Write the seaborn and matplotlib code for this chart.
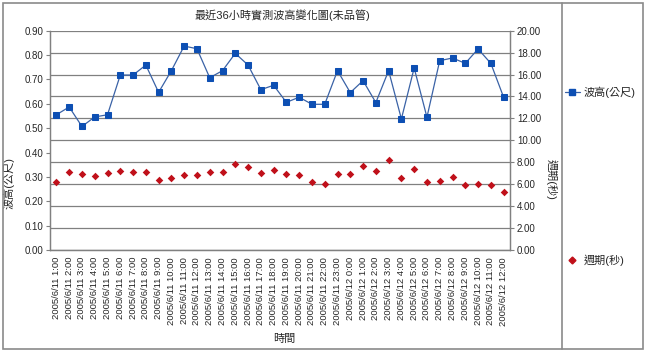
import numpy as np
import pandas as pd
import matplotlib
matplotlib.use("Agg")
import matplotlib.pyplot as plt
from matplotlib.lines import Line2D
from matplotlib.patches import Rectangle
import seaborn as sns

sns.set_style("white")
plt.rcParams['font.family'] = ['Liberation Sans', 'Noto Sans CJK TC', 'DejaVu Sans']

times = [f"2005/6/11 {h}:00" for h in range(1, 24)] + [f"2005/6/12 {h}:00" for h in range(0, 13)]
wave_height = [0.555, 0.587, 0.507, 0.546, 0.555, 0.718, 0.718, 0.759, 0.647, 0.736,
               0.837, 0.826, 0.707, 0.736, 0.807, 0.759, 0.658, 0.676, 0.606, 0.627,
               0.598, 0.598, 0.736, 0.646, 0.695, 0.605, 0.736, 0.538, 0.747, 0.545,
               0.777, 0.788, 0.766, 0.825, 0.766, 0.627]
period = [6.23, 7.14, 6.90, 6.75, 7.05, 7.23, 7.08, 7.08, 6.38, 6.56,
          6.81, 6.81, 7.14, 7.14, 7.81, 7.57, 7.05, 7.29, 6.90, 6.81,
          6.23, 6.05, 6.90, 6.90, 7.63, 7.23, 8.20, 6.56, 7.38, 6.23,
          6.29, 6.63, 5.90, 6.05, 5.90, 5.29]
left_ticks = [0.0, 0.1, 0.2, 0.3, 0.4, 0.5, 0.6, 0.7, 0.8, 0.9]
right_ticks = [0, 2, 4, 6, 8, 10, 12, 14, 16, 18, 20]

title = "最近36小時實測波高變化圖(未品管)"
label_h = "波高(公尺)"
label_p = "週期(秒)"
label_x = "時間"

df = pd.DataFrame({"time": times, "height": wave_height, "period": period})

W, H = 645, 352
fig = plt.figure(figsize=(W / 100, H / 100), dpi=100)
ax = fig.add_axes([50 / W, 1 - 250 / H, 460 / W, 219.3 / H])
ax2 = ax.twinx()

grid_c = "#808080"
blue_line = "#3a62a6"
blue_mark = "#0d4fb3"
red = "#c0101a"

sns.lineplot(data=df, x="time", y="height", ax=ax, sort=False, color=blue_line,
             linewidth=0.9, marker="s", markersize=4, markerfacecolor=blue_mark,
             markeredgecolor=blue_mark, zorder=3)
sns.scatterplot(data=df, x="time", y="period", ax=ax2, marker="D", s=15,
                color=red, edgecolor=red, linewidth=0, zorder=3)

n = len(times)
ax.set_xlim(-0.5, n - 0.5)
ax.set_ylim(0, 0.9)
ax2.set_ylim(0, 20)
ax.set_yticks(left_ticks)
ax.set_yticklabels([f"{v:.2f}" for v in left_ticks])
ax2.set_yticks(right_ticks)
ax2.set_yticklabels([f"{v:.2f}" for v in right_ticks])
ax2.grid(True, axis="y", color=grid_c, linewidth=0.9)
ax.grid(False)
ax2.set_axisbelow(True)
ax.set_zorder(ax2.get_zorder() + 1)
ax.patch.set_visible(False)

ax.set_xticks(range(n))
ax.set_xticklabels(times, rotation=90, fontsize=6.8)
ax.tick_params(axis="x", length=0, pad=5)
ax.set_xticks(np.arange(-0.5, n, 1.0), minor=True)
ax.tick_params(axis="x", which="minor", length=3, color=grid_c, direction="out")
ax.tick_params(axis="y", labelsize=7, length=3, color=grid_c, pad=2, direction="out", left=True)
ax2.tick_params(axis="y", labelsize=7, length=3, color=grid_c, pad=2, direction="out", right=True)

for a in (ax, ax2):
    for s in a.spines.values():
        s.set_color(grid_c)
        s.set_linewidth(0.9)
ax.spines["top"].set_visible(False)
ax2.spines["top"].set_visible(False)

ax.set_xlabel(label_x, fontsize=8)
ax.xaxis.set_label_coords(0.51, -0.385)
ax.set_ylabel(label_h, fontsize=8)
ax.yaxis.set_label_coords(-0.076, 0.305)
ax2.set_ylabel(label_p, fontsize=8, rotation=270, va="center")
ax2.yaxis.set_label_coords(1.091, 0.32)

fig.text(282 / W, 1 - 15 / H, title, ha="center", va="center", fontsize=8)

handles = [
    Line2D([], [], color=blue_line, linewidth=0.9, marker="s", markersize=4,
           markerfacecolor=blue_mark, markeredgecolor=blue_mark),
    Line2D([], [], color=red, linestyle="none", marker="D", markersize=3.5,
           markerfacecolor=red, markeredgecolor=red),
]
fig.legend(handles, [label_h, label_p], loc="upper left",
           bbox_to_anchor=(563 / W, 1 - 84 / H), frameon=False, fontsize=8,
           handlelength=1.3, handletextpad=0.35, labelspacing=14.1,
           borderaxespad=0, borderpad=0.2)

# chart frame and legend separator
fig.patches.append(Rectangle((3 / W, 3 / H), 640 / W, 346 / H, transform=fig.transFigure,
                             fill=False, edgecolor="#8a8a8a", linewidth=1.2))
fig.lines.append(Line2D([562 / W, 562 / W], [3 / H, 349 / H], transform=fig.transFigure,
                        color="#8a8a8a", linewidth=1.2))

fig.savefig("out.png", dpi=100, facecolor="white")
